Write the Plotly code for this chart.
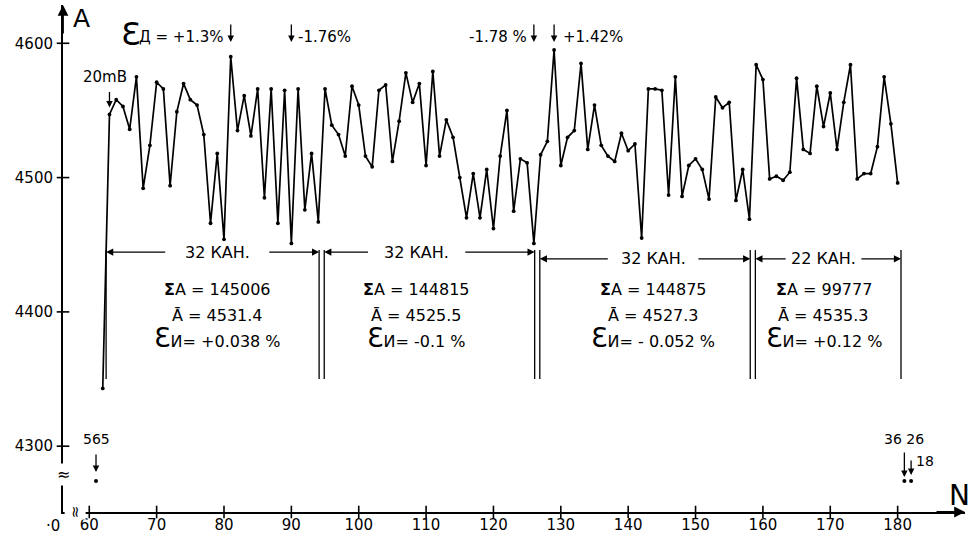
import plotly.graph_objects as go

# ---------------- data ----------------
first_channel = 62
edge_values = [4343]  # channel 62 (on scale)
block1_values = [4547, 4558, 4553, 4536, 4575, 4492, 4524, 4571, 4566, 4494, 4549, 4570, 4558, 4554, 4532, 4466,
                 4518, 4454, 4590, 4535, 4561, 4531, 4566, 4485, 4566, 4466, 4565, 4451, 4566, 4476, 4518, 4467]
block2_values = [4566, 4539, 4532, 4516, 4568, 4554, 4516, 4508, 4565, 4569, 4512, 4542, 4578, 4556, 4570, 4509,
                 4579, 4516, 4543, 4530, 4500, 4470, 4503, 4470, 4506, 4462, 4516, 4550, 4475, 4514, 4511, 4451]
block3_values = [4517, 4527, 4595, 4509, 4530, 4535, 4585, 4521, 4554, 4524, 4516, 4512, 4533, 4520, 4525, 4455,
                 4566, 4566, 4565, 4487, 4575, 4486, 4509, 4514, 4506, 4484, 4560, 4552, 4556, 4483, 4506, 4469]
block4_values = [4584, 4573, 4499, 4501, 4498, 4504, 4574, 4521, 4518, 4568, 4538, 4563, 4521, 4556, 4584, 4499,
                 4503, 4503, 4523, 4575, 4540, 4496]

A_values = edge_values + block1_values + block2_values + block3_values + block4_values
N_values = list(range(first_channel, first_channel + len(A_values)))

offscale_N = [61, 181, 182]
offscale_labels = ["565", "36 26", "18"]

block_start = [63, 95, 127, 159]
block_end = [94, 126, 158, 180]
block_titles = ["32 КАН.", "32 КАН.", "32 КАН.", "22 КАН."]
block_sums = ["145006", "144815", "144875", "99777"]
block_means = ["4531.4", "4525.5", "4527.3", "4535.3"]
block_errors = ["+0.038 %", "-0.1 %", "- 0.052 %", "+0.12 %"]

peak_N = [81, 90, 126, 129]
peak_texts = ["Д = +1.3%", "-1.76%", "-1.78 %", "+1.42%"]

x_ticks = [60, 70, 80, 90, 100, 110, 120, 130, 140, 150, 160, 170, 180]
y_ticks = [4300, 4400, 4500, 4600]

# ---------------- layout constants ----------------
X0, X1 = 56.1, 190.0
Y0, Y1 = 4251.0, 4628.5
OFFSCALE_LEVEL = 4274
FONT = "DejaVu Sans"
label_center = [79.0, 108.6, 143.7, 169.0]
row_A = [4441.5, 4417.0, 4397.5, 4381.0]
bracket_halfwidth = [7.5, 7.0, 6.5, 5.4]
v_top, v_bot = 4446, 4350

fig = go.Figure()

# main series
fig.add_trace(go.Scatter(x=N_values, y=A_values, mode="lines+markers",
                         line=dict(color="black", width=1.7),
                         marker=dict(color="black", size=3.8),
                         hoverinfo="skip"))

# off-scale points (below the axis break)
fig.add_trace(go.Scatter(x=offscale_N, y=[OFFSCALE_LEVEL] * len(offscale_N), mode="markers",
                         marker=dict(color="black", size=4), cliponaxis=False, hoverinfo="skip"))

# crossing tick marks
fig.add_trace(go.Scatter(x=x_ticks, y=[Y0] * len(x_ticks), mode="markers", cliponaxis=False,
                         marker=dict(symbol="line-ns", size=9, line=dict(color="black", width=1.6)),
                         hoverinfo="skip"))
fig.add_trace(go.Scatter(x=[X0] * len(y_ticks), y=y_ticks, mode="markers", cliponaxis=False,
                         marker=dict(symbol="line-ew", size=9, line=dict(color="black", width=1.6)),
                         hoverinfo="skip"))

shapes = []
annotations = []

# block boundary lines
for i, (s, e) in enumerate(zip(block_start, block_end)):
    if i == 0:
        xs = [s - 0.5]
    else:
        xs = [s - 0.5 - 0.38, s - 0.5 + 0.38]
    for xv in xs:
        shapes.append(dict(type="line", x0=xv, x1=xv, y0=v_top, y1=v_bot, xref="x", yref="y",
                           line=dict(color="black", width=1.3)))
shapes.append(dict(type="line", x0=block_end[-1] + 0.5, x1=block_end[-1] + 0.5, y0=v_top, y1=v_bot,
                   xref="x", yref="y", line=dict(color="black", width=1.3)))

for i in range(len(block_start)):
    c = label_center[i]
    hw = bracket_halfwidth[i]
    lvl = row_A[0] + (3 if i < 2 else -2)
    left_b = block_start[i] - 0.5 + (0 if i == 0 else 0.38)
    right_b = block_end[i] + 0.5 - (0.38 if i < 3 else 0)
    for tip, tail in [(left_b, c - hw), (right_b, c + hw)]:
        annotations.append(dict(x=tip, y=lvl, ax=tail, ay=lvl, xref="x", yref="y", axref="x", ayref="y",
                                text="", showarrow=True, arrowhead=2, arrowsize=1.1, arrowwidth=1.3,
                                arrowcolor="black"))
    annotations.append(dict(x=c, y=lvl, text=block_titles[i], showarrow=False,
                            font=dict(family=FONT, size=16, color="black")))
    annotations.append(dict(x=c, y=row_A[1], text="<b>Σ</b>A = " + block_sums[i], showarrow=False,
                            font=dict(family=FONT, size=16, color="black")))
    annotations.append(dict(x=c, y=row_A[2], text="Ā = " + block_means[i], showarrow=False,
                            font=dict(family=FONT, size=16, color="black")))
    annotations.append(dict(x=c, y=row_A[3],
                            text="<span style='font-size:27px'>Ɛ</span>И= " + block_errors[i],
                            showarrow=False, font=dict(family=FONT, size=16, color="black")))

# peak arrows and deviation labels
for n in peak_N:
    annotations.append(dict(x=n, y=4601, xref="x", yref="y", ax=0, ay=-19, text="", showarrow=True,
                            arrowhead=2, arrowsize=1, arrowwidth=1.3, arrowcolor="black"))
annotations.append(dict(x=peak_N[0], y=4606, text="<span style='font-size:32px'>Ɛ</span>", showarrow=False,
                        xshift=-100, yshift=1, font=dict(family=FONT, size=15, color="black")))
annotations.append(dict(x=peak_N[0], y=4605, text=peak_texts[0], showarrow=False, xanchor="right",
                        xshift=-5, font=dict(family=FONT, size=15, color="black")))
annotations.append(dict(x=peak_N[1], y=4605, text=peak_texts[1], showarrow=False, xanchor="left",
                        xshift=5, font=dict(family=FONT, size=15, color="black")))
annotations.append(dict(x=peak_N[2], y=4605, text=peak_texts[2], showarrow=False, xanchor="right",
                        xshift=-5, font=dict(family=FONT, size=15, color="black")))
annotations.append(dict(x=peak_N[3], y=4605, text=peak_texts[3], showarrow=False, xanchor="left",
                        xshift=7, font=dict(family=FONT, size=15, color="black")))

# 20 mB marker
annotations.append(dict(x=N_values[1], y=A_values[1], ax=0, ay=-24, text="", showarrow=True, standoff=7,
                        arrowhead=2, arrowsize=1, arrowwidth=1.3, arrowcolor="black"))
annotations.append(dict(x=N_values[1], y=A_values[1], text="20mB", showarrow=False, yshift=37, xshift=-4,
                        font=dict(family=FONT, size=15, color="black")))

# off-scale labels
annotations.append(dict(x=offscale_N[0], y=OFFSCALE_LEVEL, ax=0, ay=-28, text="", showarrow=True, standoff=9,
                        arrowhead=2, arrowsize=1, arrowwidth=1.3, arrowcolor="black"))
annotations.append(dict(x=offscale_N[0], y=OFFSCALE_LEVEL, text=offscale_labels[0], showarrow=False,
                        yshift=42, font=dict(family=FONT, size=14, color="black")))
annotations.append(dict(x=offscale_N[1], y=OFFSCALE_LEVEL, ax=0, ay=-30, text="", showarrow=True, standoff=4,
                        arrowhead=2, arrowsize=1, arrowwidth=1.3, arrowcolor="black"))
annotations.append(dict(x=offscale_N[1], y=OFFSCALE_LEVEL, text=offscale_labels[1], showarrow=False,
                        yshift=42, font=dict(family=FONT, size=14, color="black")))
annotations.append(dict(x=offscale_N[2], y=OFFSCALE_LEVEL, ax=0, ay=-22, text="", showarrow=True, standoff=6,
                        arrowhead=2, arrowsize=1, arrowwidth=1.3, arrowcolor="black"))
annotations.append(dict(x=offscale_N[2], y=OFFSCALE_LEVEL, text=offscale_labels[2], showarrow=False,
                        yshift=20, xshift=14, font=dict(family=FONT, size=14, color="black")))

# axis arrows, names, breaks
annotations.append(dict(x=X0, y=Y1, xref="x", yref="y", ax=0, ay=30, text="", showarrow=True,
                        arrowhead=2, arrowsize=1.2, arrowwidth=1.8, arrowcolor="black"))
annotations.append(dict(x=X1, y=Y0, xref="x", yref="y", ax=-30, ay=0, text="", showarrow=True,
                        arrowhead=2, arrowsize=1.2, arrowwidth=1.8, arrowcolor="black"))
annotations.append(dict(x=X0, y=Y1, text="A", showarrow=False, xanchor="left", xshift=8, yshift=-13,
                        font=dict(family=FONT, size=25, color="black")))
annotations.append(dict(x=X1, y=Y0, text="N", showarrow=False, xanchor="right", xshift=7, yshift=17,
                        font=dict(family=FONT, size=28, color="black")))
annotations.append(dict(x=X0, y=4279, text="≈", showarrow=False, bgcolor="white",
                        font=dict(family=FONT, size=16, color="black")))
annotations.append(dict(x=57.9, y=Y0, text="≈", showarrow=False, bgcolor="white", textangle=-90,
                        font=dict(family=FONT, size=15, color="black")))
annotations.append(dict(x=X0, y=Y0, text="·0", showarrow=False, xanchor="right", yanchor="top",
                        xshift=-1, yshift=-3, font=dict(family=FONT, size=15, color="black")))

fig.update_layout(
    width=975, height=537,
    margin=dict(l=63, r=10, t=5, b=25, autoexpand=False),
    plot_bgcolor="white", paper_bgcolor="white",
    showlegend=False,
    shapes=shapes,
    annotations=annotations,
    xaxis=dict(range=[X0, X1], showline=True, linecolor="black", linewidth=2, showgrid=False,
               zeroline=False, tickvals=x_ticks, ticks="", tickfont=dict(family=FONT, size=15, color="black"),
               ticklabelstandoff=-2, automargin=False),
    yaxis=dict(range=[Y0, Y1], showline=True, linecolor="black", linewidth=2, showgrid=False,
               zeroline=False, tickvals=y_ticks, ticks="", tickfont=dict(family=FONT, size=15, color="black"),
               ticklabelstandoff=5, automargin=False),
)

fig.write_html("out.html", config={"displayModeBar": False},
               post_script="document.body.style.margin='0';document.body.style.overflow='hidden';")
